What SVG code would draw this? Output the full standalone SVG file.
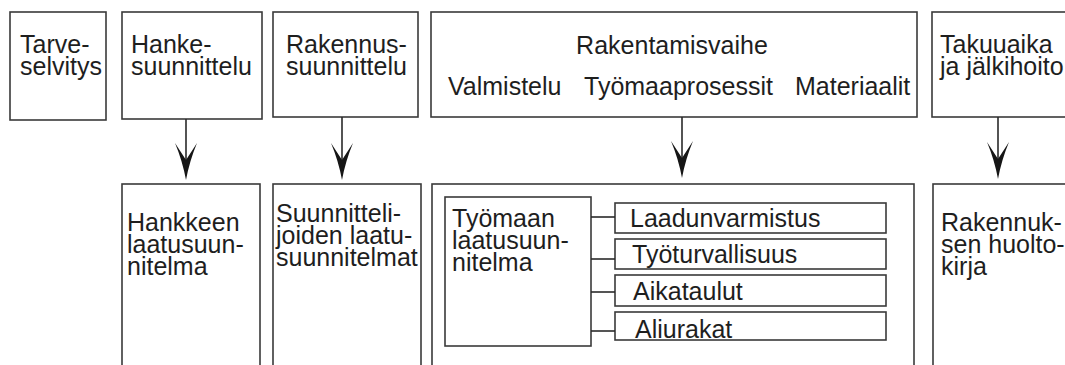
<svg xmlns="http://www.w3.org/2000/svg" width="1065" height="365" viewBox="0 0 1065 365">
<style>
.box{fill:#fff;stroke:#3a3a3a;stroke-width:1.6}
.t{font-family:"Liberation Sans",Arial,sans-serif;font-size:25px;fill:#1e1e1e}
.c{stroke:#2a2a2a;stroke-width:1.6;fill:none}
.ah{fill:#161616;stroke:none}
</style>
<defs>
<path id="arrowhead" class="ah" d="M0,0 Q-3.5,-19 -11,-37 L0,-20 L11,-37 Q3.5,-19 0,0 Z"/>
</defs>
<rect width="1065" height="365" fill="#fff"/>
<g id="tarveselvitys">
<rect class="box" x="10" y="12" width="96" height="108"/>
<text class="t" x="20" y="53">Tarve-</text>
<text class="t" x="20" y="75">selvitys</text>
</g>
<g id="hankesuunnittelu">
<rect class="box" x="122" y="12" width="140" height="107"/>
<text class="t" x="131" y="53">Hanke-</text>
<text class="t" x="131" y="75">suunnittelu</text>
</g>
<g id="rakennussuunnittelu">
<rect class="box" x="273" y="12" width="145" height="105"/>
<text class="t" x="286" y="53">Rakennus-</text>
<text class="t" x="286" y="75">suunnittelu</text>
</g>
<g id="rakentamisvaihe">
<rect class="box" x="431" y="12" width="486" height="105"/>
<text class="t" x="672" y="54" text-anchor="middle">Rakentamisvaihe</text>
<text class="t" x="448" y="95">Valmistelu</text>
<text class="t" x="584" y="95">Työmaaprosessit</text>
<text class="t" x="795" y="95">Materiaalit</text>
</g>
<g id="takuuaika">
<rect class="box" x="932" y="12" width="150" height="105"/>
<text class="t" x="940" y="53">Takuuaika</text>
<text class="t" x="940" y="75">ja jälkihoito</text>
</g>
<g id="hankkeen-laatusuunnitelma">
<rect class="box" x="122" y="184" width="138" height="200"/>
<text class="t" x="127" y="231">Hankkeen</text>
<text class="t" x="127" y="253">laatusuun-</text>
<text class="t" x="127" y="275">nitelma</text>
</g>
<g id="suunnittelijoiden-laatusuunnitelmat">
<rect class="box" x="273" y="184" width="148" height="200"/>
<text class="t" x="276" y="222">Suunnitteli-</text>
<text class="t" x="276" y="244">joiden laatu-</text>
<text class="t" x="276" y="266">suunnitelmat</text>
</g>
<g id="tyomaa">
<rect class="box" x="432" y="184" width="482" height="200"/>
</g>
<g id="tyomaan-laatusuunnitelma">
<rect class="box" x="445" y="197" width="146" height="149"/>
<text class="t" x="452" y="227">Työmaan</text>
<text class="t" x="452" y="249">laatusuun-</text>
<text class="t" x="452" y="271">nitelma</text>
</g>
<g id="laadunvarmistus">
<rect class="box" x="615" y="203" width="271" height="30"/>
<text class="t" x="630" y="227">Laadunvarmistus</text>
</g>
<g id="tyoturvallisuus">
<rect class="box" x="615" y="239" width="271" height="30"/>
<text class="t" x="632" y="263">Työturvallisuus</text>
</g>
<g id="aikataulut">
<rect class="box" x="615" y="275" width="271" height="31"/>
<text class="t" x="633" y="300">Aikataulut</text>
</g>
<g id="aliurakat">
<rect class="box" x="615" y="312" width="271" height="28"/>
<text class="t" x="635" y="338">Aliurakat</text>
</g>
<g id="rakennuksen-huoltokirja">
<rect class="box" x="933" y="184" width="150" height="200"/>
<text class="t" x="941" y="231">Rakennuk-</text>
<text class="t" x="941" y="253">sen huolto-</text>
<text class="t" x="941" y="275">kirja</text>
</g>
<g id="connectors">
<line class="c" x1="186" y1="119" x2="186" y2="165"/>
<use href="#arrowhead" x="186" y="180"/>
<line class="c" x1="342" y1="117" x2="342" y2="165"/>
<use href="#arrowhead" x="342" y="180"/>
<line class="c" x1="682" y1="117" x2="682" y2="163"/>
<use href="#arrowhead" x="682" y="178"/>
<line class="c" x1="998" y1="117" x2="998" y2="164"/>
<use href="#arrowhead" x="998" y="179"/>
<line class="c" x1="591" y1="217" x2="615" y2="217"/>
<line class="c" x1="591" y1="259" x2="615" y2="259"/>
<line class="c" x1="591" y1="292" x2="615" y2="292"/>
<line class="c" x1="591" y1="331" x2="615" y2="331"/>
</g>
</svg>
